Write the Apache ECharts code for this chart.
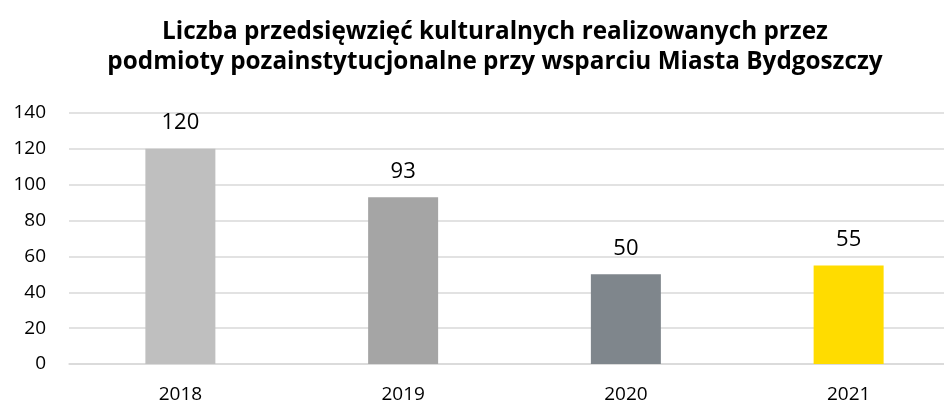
<!DOCTYPE html>
<html>
<head>
<meta charset="utf-8">
<script src="https://cdn.jsdelivr.net/npm/echarts@6/dist/echarts.min.js"></script>
<style>
  html, body { margin: 0; padding: 0; background: #fff; }
  #chart { width: 944px; height: 403px; }
</style>
</head>
<body>
<div id="chart"></div>
<script>
// dane wykresu
const years = ['2018', '2019', '2020', '2021']
const counts = [120, 93, 50, 55]
const barColors = ['#BFBFBF', '#A5A5A5', '#7F868C', '#FFDC00']
const yTicks = [0, 20, 40, 60, 80, 100, 120, 140]

const chart = echarts.init(document.getElementById('chart'))

chart.setOption({
  animation: false,
  title: {
    text: 'Liczba przedsięwzięć kulturalnych realizowanych przez\npodmioty pozainstytucjonalne przy wsparciu Miasta Bydgoszczy',
    // tytuł wyśrodkowany względem obszaru wykresu, nie okna
    left: 490,
    textAlign: 'center',
    top: 12,
    textStyle: {
      fontFamily: 'Open Sans',
      fontWeight: 'bold',
      fontSize: 24.3,
      lineHeight: 30,
      color: '#000'
    }
  },
  // obszar wykresu wychodzi poza prawą krawędź (jak w oryginale)
  grid: { left: 69, right: -16, top: 113, bottom: 39, outerBoundsMode: 'none' },
  xAxis: {
    type: 'category',
    data: years,
    axisTick: { show: false },
    axisLine: { lineStyle: { color: '#D9D9D9', width: 1.5 } },
    axisLabel: { color: '#000', fontFamily: 'Open Sans', fontSize: 19, margin: 21 }
  },
  yAxis: {
    type: 'value',
    min: yTicks[0],
    max: yTicks[yTicks.length - 1],
    interval: 20,
    axisLabel: { color: '#000', fontFamily: 'Open Sans', fontSize: 19, margin: 23 },
    splitLine: { lineStyle: { color: '#D9D9D9', width: 1.5 } }
  },
  series: [{
    type: 'bar',
    barWidth: 70,
    data: counts.map((v, i) => ({ value: v, itemStyle: { color: barColors[i] } })),
    label: {
      show: true,
      position: 'top',
      distance: 15,
      color: '#000',
      fontFamily: 'Open Sans',
      fontSize: 22
    }
  }]
})
</script>
</body>
</html>
